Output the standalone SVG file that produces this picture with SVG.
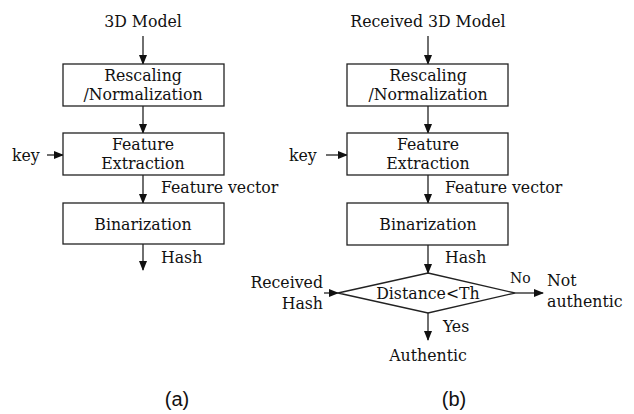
<svg xmlns="http://www.w3.org/2000/svg" width="634" height="414" viewBox="0 0 634 414">
<style>
text{font-family:'DejaVu Serif Condensed','DejaVu Serif',serif;font-stretch:condensed}
.t{font-size:17.5px;fill:#111}
.c{text-anchor:middle}
.s{font-family:'Liberation Sans',Arial,sans-serif;font-stretch:normal;font-size:20px;fill:#111;text-anchor:middle}
.b{fill:#fff;stroke:#222;stroke-width:1.3}
.e{stroke:#222;stroke-width:1.3;fill:none;marker-end:url(#ah)}
</style>
<defs>
<marker id="ah" markerWidth="10" markerHeight="8" refX="9" refY="4" orient="auto" markerUnits="userSpaceOnUse">
<path d="M0,0 L10,4 L0,8 Z" fill="#111"/>
</marker>
</defs>
<rect width="634" height="414" fill="#fff"/>
<g id="connectors">
<line class="e" x1="143" y1="36" x2="143" y2="64"/>
<line class="e" x1="143" y1="106" x2="143" y2="133"/>
<line class="e" x1="47" y1="155" x2="63" y2="155"/>
<line class="e" x1="143" y1="175" x2="143" y2="203"/>
<line class="e" x1="143" y1="244" x2="143" y2="270"/>
<line class="e" x1="428" y1="36" x2="428" y2="64"/>
<line class="e" x1="428" y1="106" x2="428" y2="133"/>
<line class="e" x1="326" y1="155" x2="347" y2="155"/>
<line class="e" x1="428" y1="175" x2="428" y2="203"/>
<line class="e" x1="428" y1="245" x2="428" y2="273"/>
<line class="e" x1="324" y1="293" x2="338" y2="293"/>
<line class="e" x1="515" y1="293" x2="543" y2="293"/>
<line class="e" x1="428" y1="313" x2="428" y2="340"/>
</g>
<g id="a-input"><text class="t c" x="143" y="27">3D Model</text></g>
<g id="a-rescale"><rect class="b" x="63" y="64" width="161" height="42"/><text class="t c" x="143" y="81">Rescaling</text><text class="t c" x="143" y="100">/Normalization</text></g>
<g id="a-key"><text class="t" x="12" y="161">key</text></g>
<g id="a-feature"><rect class="b" x="63" y="133" width="161" height="42"/><text class="t c" x="143" y="150">Feature</text><text class="t c" x="143" y="169">Extraction</text></g>
<g id="a-fv"><text class="t" x="161" y="193">Feature vector</text></g>
<g id="a-bin"><rect class="b" x="63" y="203" width="161" height="41"/><text class="t c" x="143" y="230">Binarization</text></g>
<g id="a-hash"><text class="t" x="161" y="263">Hash</text></g>
<g id="b-input"><text class="t c" x="428" y="27">Received 3D Model</text></g>
<g id="b-rescale"><rect class="b" x="347" y="64" width="161" height="42"/><text class="t c" x="428" y="81">Rescaling</text><text class="t c" x="428" y="100">/Normalization</text></g>
<g id="b-key"><text class="t" x="289" y="161">key</text></g>
<g id="b-feature"><rect class="b" x="347" y="133" width="161" height="42"/><text class="t c" x="428" y="150">Feature</text><text class="t c" x="428" y="169">Extraction</text></g>
<g id="b-fv"><text class="t" x="445" y="193">Feature vector</text></g>
<g id="b-bin"><rect class="b" x="347" y="203" width="161" height="42"/><text class="t c" x="428" y="230">Binarization</text></g>
<g id="b-hash"><text class="t" x="445" y="263">Hash</text></g>
<g id="b-decision"><polygon class="b" points="428,273 515,293 428,313 338,293"/><text class="t c" x="428" y="299">Distance&lt;Th</text></g>
<g id="b-rhash"><text class="t" text-anchor="end" x="323" y="288">Received</text><text class="t" text-anchor="end" x="323" y="309">Hash</text></g>
<g id="b-no"><text class="t" style="font-size:15.5px" x="510" y="283">No</text></g>
<g id="b-notauth"><text class="t" x="547" y="286">Not</text><text class="t" x="547" y="307">authentic</text></g>
<g id="b-yes"><text class="t" x="443" y="332">Yes</text></g>
<g id="b-auth"><text class="t c" x="428" y="361">Authentic</text></g>
<g id="captions"><text class="s" x="177" y="406">(a)</text><text class="s" x="454" y="406">(b)</text></g>
</svg>
